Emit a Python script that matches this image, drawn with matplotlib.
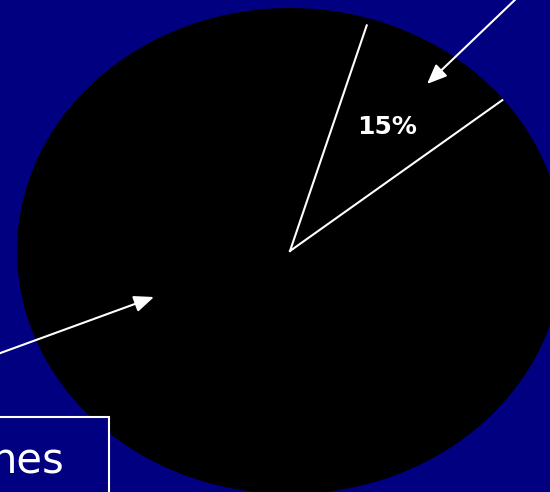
import numpy as np
import matplotlib.pyplot as plt
from matplotlib.patches import Rectangle

# slice shares as drawn (small slice is labelled 15%)
shares = [9.6, 90.4]
slice_label = '15%'
box_text = 'nes'

W, H = 550, 492
cx, cy, rx, ry = 290, 251, 273, 243   # ellipse in pixels


def px(x, y):
    # pixel position -> data coords (pie has radius 1 at origin)
    return (x - cx) / rx, (cy - y) / ry


fig = plt.figure(figsize=(W / 100, H / 100), dpi=100)
fig.patch.set_facecolor('#000080')
ax = fig.add_axes([0, 0, 1, 1])
ax.set_facecolor('#000080')

wedges, _ = ax.pie(shares, startangle=38.6, counterclock=True,
                   colors=['black', 'black'],
                   wedgeprops=dict(edgecolor='none'))

# white radii around the small slice
w = wedges[0]
for ang, r in [(w.theta1, 0.995), (w.theta2, 0.97)]:
    a = np.radians(ang)
    ax.plot([0, r * np.cos(a)], [0, r * np.sin(a)], color='white', lw=1.5)

ax.set_aspect('auto')
x0, y0 = px(0, H)
x1, y1 = px(W, 0)
ax.set_xlim(x0, x1)
ax.set_ylim(y0, y1)
ax.axis('off')

ax.text(*px(387, 127), slice_label, color='white', fontsize=18,
        fontweight='bold', ha='center', va='center')

arrow = dict(arrowstyle='-|>,head_length=0.6,head_width=0.25',
             color='white', lw=1.5, mutation_scale=20, shrinkA=0, shrinkB=0)
ax.annotate('', xy=px(427, 84), xytext=px(520, -5), arrowprops=arrow,
            annotation_clip=False)
ax.annotate('', xy=px(154, 297), xytext=px(-5, 355), arrowprops=arrow,
            annotation_clip=False)

# text box at bottom left
bx, by = px(-10, 500)
bx2, by2 = px(109, 417)
ax.add_patch(Rectangle((bx, by), bx2 - bx, by2 - by, facecolor='#000080',
                       edgecolor='white', lw=1.5, clip_on=False))
ax.text(*px(64, 474), box_text, color='white', fontsize=30,
        ha='right', va='baseline')

fig.savefig('out.png', dpi=100, facecolor=fig.get_facecolor())
